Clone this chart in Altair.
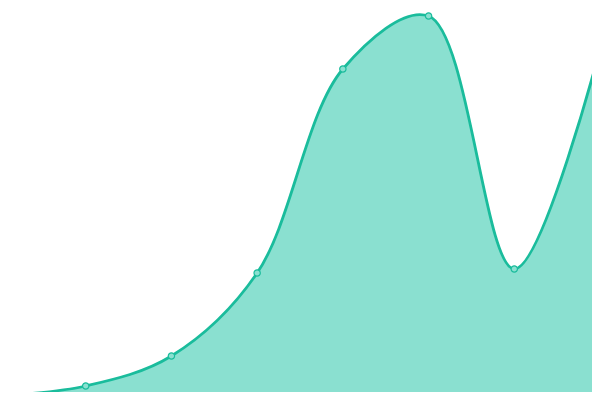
import altair as alt
import pandas as pd

x_idx = [0, 1, 2, 3, 4, 5, 6, 7]
values = [4, 14, 44, 127, 331, 384, 131, 351]

df = pd.DataFrame({"x": x_idx, "v": values})

line_color = "#1abc9c"
fill_color = "#8ae0d0"

# ranges offset by the 8px page margin so the plot lines up with a full-bleed 600x400 view
xs = alt.X("x:Q", axis=None, scale=alt.Scale(domain=[0, 7], nice=False, zero=False, range=[-8, 592]))
ys = alt.Y("v:Q", axis=None, scale=alt.Scale(domain=[0, 400], nice=False, range=[392, -8]))

base = alt.Chart(df)
area = base.mark_area(interpolate="catmull-rom", color=fill_color, opacity=1).encode(x=xs, y=ys)
line = base.mark_line(interpolate="catmull-rom", color=line_color, strokeWidth=2.8).encode(x=xs, y=ys)
pts = base.mark_point(shape="circle", filled=True, size=40, fill=fill_color, stroke=line_color,
                      strokeWidth=1.2, opacity=1).encode(x=xs, y=ys)

chart = (area + line + pts).properties(
    width=584, height=384,
    autosize=alt.AutoSizeParams(type="none"),
    padding=0,
).configure_view(stroke=None)

chart.save("out.html", embed_options={"renderer": "svg", "actions": False})
